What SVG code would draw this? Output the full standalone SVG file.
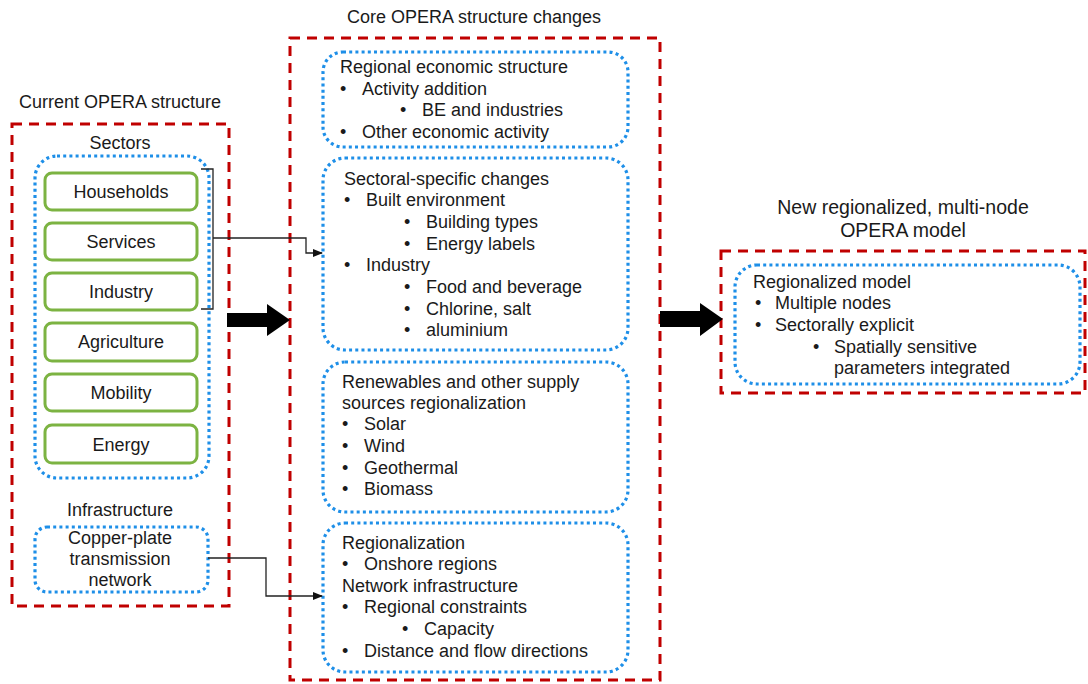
<svg xmlns="http://www.w3.org/2000/svg" width="1088" height="684" viewBox="0 0 1088 684">
<defs>
<style>
text{font-family:"Liberation Sans",Arial,sans-serif;font-size:18px;fill:#1a1a1a}
.c{text-anchor:middle}
.t2{font-size:19.5px}
.red{fill:none;stroke:#C00000;stroke-width:3;stroke-dasharray:10 7}
.blue{fill:none;stroke:#1E8FE8;stroke-width:3.2;stroke-dasharray:3 3.2}
.green{fill:#fff;stroke:#7CB342;stroke-width:3}
.conn{fill:none;stroke:#222;stroke-width:1.3}
</style>
<marker id="ah" markerWidth="10" markerHeight="8" refX="9" refY="4" orient="auto" markerUnits="userSpaceOnUse">
<path d="M0,0 L10,4 L0,8 z" fill="#111"/>
</marker>
</defs>
<rect width="1088" height="684" fill="#fff"/>

<g id="current">
<text class="c" x="120" y="108">Current OPERA structure</text>
<rect class="red" x="12" y="124" width="217" height="482"/>
<text class="c" x="120" y="149">Sectors</text>
<rect class="blue" x="35" y="156" width="174" height="322" rx="22"/>
<g id="households"><rect class="green" x="45" y="173" width="152" height="37" rx="7"/><text class="c" x="121" y="198">Households</text></g>
<g id="services"><rect class="green" x="45" y="223" width="152" height="37" rx="7"/><text class="c" x="121" y="248">Services</text></g>
<g id="industry"><rect class="green" x="45" y="273" width="152" height="37" rx="7"/><text class="c" x="121" y="298">Industry</text></g>
<g id="agriculture"><rect class="green" x="45" y="323" width="152" height="38" rx="7"/><text class="c" x="121" y="348">Agriculture</text></g>
<g id="mobility"><rect class="green" x="45" y="374" width="152" height="37" rx="7"/><text class="c" x="121" y="399">Mobility</text></g>
<g id="energy"><rect class="green" x="45" y="425" width="152" height="38" rx="7"/><text class="c" x="121" y="451">Energy</text></g>
<text class="c" x="120" y="516">Infrastructure</text>
<g id="copper"><rect class="blue" x="35" y="527" width="173" height="65" rx="12"/>
<text class="c" x="120" y="544">Copper-plate</text>
<text class="c" x="120" y="565">transmission</text>
<text class="c" x="120" y="586">network</text></g>
</g>

<g id="core">
<text class="c" x="474" y="23">Core OPERA structure changes</text>
<rect class="red" x="290" y="38" width="370" height="642"/>
<g id="regional-economic">
<rect class="blue" x="323" y="52" width="305" height="95" rx="20"/>
<text x="340" y="73">Regional economic structure</text>
<text x="340" y="95">•</text><text x="362" y="95">Activity addition</text>
<text x="400" y="116">•</text><text x="422" y="116">BE and industries</text>
<text x="340" y="138">•</text><text x="362" y="138">Other economic activity</text>
</g>
<g id="sectoral">
<rect class="blue" x="323" y="158" width="305" height="192" rx="22"/>
<text x="344" y="185">Sectoral-specific changes</text>
<text x="344" y="206">•</text><text x="366" y="206">Built environment</text>
<text x="404" y="228">•</text><text x="426" y="228">Building types</text>
<text x="404" y="250">•</text><text x="426" y="250">Energy labels</text>
<text x="344" y="271">•</text><text x="366" y="271">Industry</text>
<text x="404" y="293">•</text><text x="426" y="293">Food and beverage</text>
<text x="404" y="315">•</text><text x="426" y="315">Chlorine, salt</text>
<text x="404" y="336">•</text><text x="426" y="336">aluminium</text>
</g>
<g id="renewables">
<rect class="blue" x="323" y="362" width="305" height="150" rx="22"/>
<text x="342" y="388">Renewables and other supply</text>
<text x="342" y="409">sources regionalization</text>
<text x="342" y="430">•</text><text x="364" y="430">Solar</text>
<text x="342" y="452">•</text><text x="364" y="452">Wind</text>
<text x="342" y="474">•</text><text x="364" y="474">Geothermal</text>
<text x="342" y="495">•</text><text x="364" y="495">Biomass</text>
</g>
<g id="regionalization">
<rect class="blue" x="323" y="523" width="305" height="149" rx="22"/>
<text x="342" y="549">Regionalization</text>
<text x="342" y="570">•</text><text x="364" y="570">Onshore regions</text>
<text x="342" y="592">Network infrastructure</text>
<text x="342" y="613">•</text><text x="364" y="613">Regional constraints</text>
<text x="402" y="635">•</text><text x="424" y="635">Capacity</text>
<text x="342" y="657">•</text><text x="364" y="657">Distance and flow directions</text>
</g>
</g>

<g id="new-model">
<text class="c t2" x="903" y="214">New regionalized, multi-node</text>
<text class="c t2" x="903" y="237">OPERA model</text>
<rect class="red" x="721" y="251" width="364" height="142"/>
<rect class="blue" x="735" y="265" width="345" height="119" rx="22"/>
<text x="753" y="288">Regionalized model</text>
<text x="755" y="309">•</text><text x="775" y="309">Multiple nodes</text>
<text x="755" y="331">•</text><text x="775" y="331">Sectorally explicit</text>
<text x="813" y="353">•</text><text x="834" y="353">Spatially sensitive</text>
<text x="834" y="374">parameters integrated</text>
</g>

<g id="connectors">
<path class="conn" d="M201,169 H213 V309 H201"/>
<path class="conn" d="M213,238 H306 V253 H322" marker-end="url(#ah)"/>
<path class="conn" d="M208,558 H266 V596 H322" marker-end="url(#ah)"/>
<path d="M227,313 H267 V304 L290,320 L267,336 V327 H227 z" fill="#000"/>
<path d="M660,311 H700 V303 L723,319 L700,336 V327 H660 z" fill="#000"/>
</g>
</svg>
